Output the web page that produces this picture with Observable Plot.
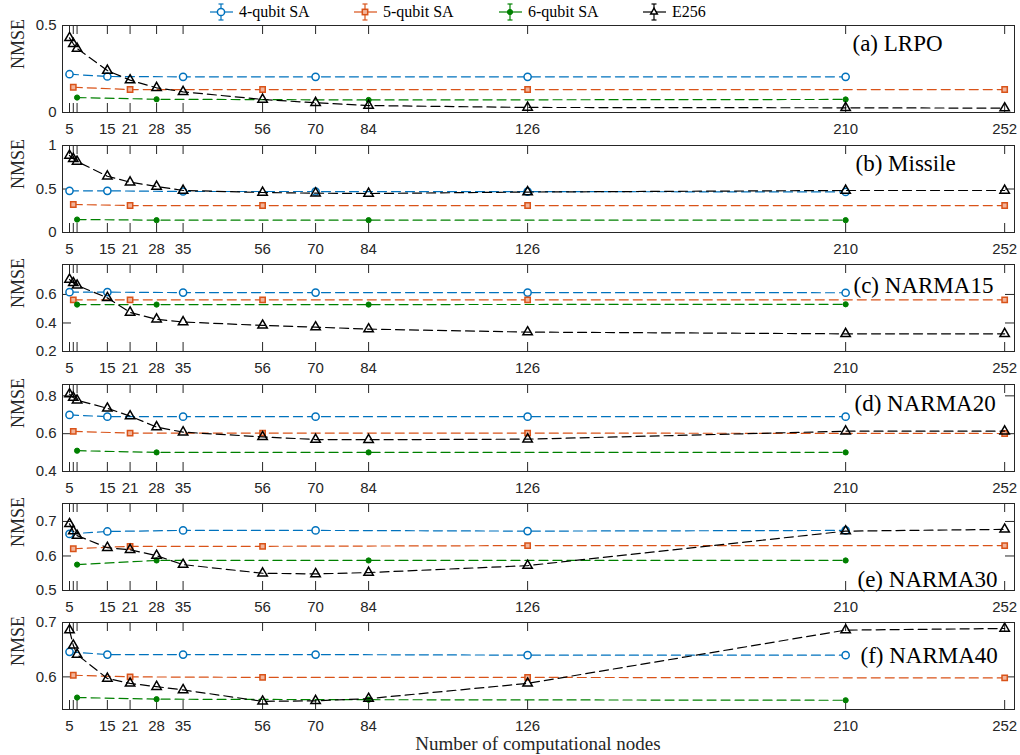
<!DOCTYPE html>
<html>
<head>
<meta charset="utf-8">
<script src="https://cdn.jsdelivr.net/npm/d3@7"></script>
<script src="https://cdn.jsdelivr.net/npm/@observablehq/plot@0.6"></script>
<style>
  html, body { margin: 0; padding: 0; background: white; }
  #wrap { position: relative; width: 1020px; height: 755px; overflow: hidden; }
  #wrap > svg { position: absolute; left: 0; }
  .leg { position: absolute; top: 1px; height: 22px; display: flex; align-items: center; font-family: 'Liberation Serif', 'Times New Roman', Times, serif; font-size: 16px; color: #000; white-space: nowrap; }
  #wrap .leg svg { position: static; margin-right: 6px; flex: none; }
  #xlabel { position: absolute; left: 0; width: 1076px; text-align: center; top: 733px; font-family: 'Liberation Serif', 'Times New Roman', Times, serif; font-size: 19px; color: #262626; }
  .serif { font-family: 'Liberation Serif', 'Times New Roman', Times, serif !important; }
</style>
</head>
<body>
<div id="wrap"></div>
<script>
// ---- data ----
const seriesNames = ["4-qubit SA", "5-qubit SA", "6-qubit SA", "E256"];
const seriesColors = ["#0072BD", "#D95319", "#008000", "#000000"];
const seriesSymbols = ["circle", "square", "dot", "triangle"];

const xs4 = [5, 15, 35, 70, 126, 210];
const xs5 = [6, 21, 56, 126, 252];
const xs6 = [7, 28, 84, 210];
const xsE = [5, 6, 7, 15, 21, 28, 35, 56, 70, 84, 126, 210, 252];

const xTicks = [5, 6, 7, 15, 21, 28, 35, 56, 70, 84, 126, 210, 252];
const xTicksUnlabeled = [6, 7];

const panelLabels = ["(a) LRPO", "(b) Missile", "(c) NARMA15", "(d) NARMA20", "(e) NARMA30", "(f) NARMA40"];
const yDomains = [[0, 0.5], [0, 1], [0.2, 0.81], [0.4, 0.86], [0.5, 0.752], [0.54, 0.70]];
const yTicks = [[0, 0.5], [0, 0.5, 1], [0.2, 0.4, 0.6], [0.4, 0.6, 0.8], [0.5, 0.6, 0.7], [0.6, 0.7]];

const lrpo4 = [0.220, 0.207, 0.205, 0.205, 0.205, 0.205];
const lrpo5 = [0.145, 0.132, 0.132, 0.132, 0.132];
const lrpo6 = [0.086, 0.076, 0.072, 0.075];
const lrpoE = [0.429, 0.395, 0.368, 0.241, 0.186, 0.142, 0.119, 0.075, 0.056, 0.040, 0.029, 0.027, 0.025];

const missile4 = [0.479, 0.479, 0.471, 0.471, 0.470, 0.466];
const missile5 = [0.322, 0.310, 0.310, 0.310, 0.310];
const missile6 = [0.149, 0.142, 0.142, 0.142];
const missileE = [0.885, 0.847, 0.816, 0.647, 0.578, 0.529, 0.483, 0.460, 0.452, 0.448, 0.465, 0.483, 0.483];

const narma15_4 = [0.616, 0.616, 0.613, 0.613, 0.613, 0.612];
const narma15_5 = [0.562, 0.562, 0.562, 0.562, 0.562];
const narma15_6 = [0.529, 0.529, 0.529, 0.531];
const narma15_E = [0.705, 0.681, 0.664, 0.576, 0.474, 0.426, 0.407, 0.383, 0.371, 0.357, 0.336, 0.324, 0.324];

const narma20_4 = [0.699, 0.690, 0.690, 0.690, 0.690, 0.690];
const narma20_5 = [0.612, 0.603, 0.603, 0.603, 0.601];
const narma20_6 = [0.510, 0.501, 0.501, 0.501];
const narma20_E = [0.809, 0.791, 0.777, 0.734, 0.693, 0.635, 0.608, 0.583, 0.569, 0.568, 0.571, 0.613, 0.613];

const narma30_4 = [0.664, 0.671, 0.674, 0.674, 0.672, 0.674];
const narma30_5 = [0.621, 0.628, 0.628, 0.630, 0.630];
const narma30_6 = [0.575, 0.587, 0.587, 0.587];
const narma30_E = [0.693, 0.672, 0.659, 0.624, 0.618, 0.601, 0.575, 0.550, 0.548, 0.552, 0.572, 0.672, 0.677];

const narma40_4 = [0.646, 0.641, 0.641, 0.641, 0.640, 0.640];
const narma40_5 = [0.603, 0.600, 0.599, 0.599, 0.598];
const narma40_6 = [0.562, 0.559, 0.558, 0.557];
const narma40_E = [0.686, 0.658, 0.641, 0.597, 0.588, 0.582, 0.576, 0.555, 0.556, 0.560, 0.588, 0.686, 0.689];

const panelValues = [
  [lrpo4, lrpo5, lrpo6, lrpoE],
  [missile4, missile5, missile6, missileE],
  [narma15_4, narma15_5, narma15_6, narma15_E],
  [narma20_4, narma20_5, narma20_6, narma20_E],
  [narma30_4, narma30_5, narma30_6, narma30_E],
  [narma40_4, narma40_5, narma40_6, narma40_E]
];
const seriesX = [xs4, xs5, xs6, xsE];

// ---- layout (styles) ----
const frameTops = [25, 145, 264, 384, 503, 622];
const plotH = 87;
const mTop = 10, mBottom = 28, mLeft = 62, mRight = 6, W = 1020;
const plotW = W - mLeft - mRight;
const labelPos = [
  {anchor: "top-left", dx: 790, dy: 18},
  {anchor: "top-left", dx: 793, dy: 18},
  {anchor: "top-left", dx: 791, dy: 21},
  {anchor: "top-left", dx: 792, dy: 19},
  {anchor: "bottom-left", dx: 795, dy: -11},
  {anchor: "top-left", dx: 798, dy: 33}
];
const axisColor = "#262626";
const dash = "9,5";
const serifFont = "'Liberation Serif', 'Times New Roman', Times, serif";

function markFor(sym, color, data) {
  if (sym === "circle") return Plot.dot(data, {x: "x", y: "y", symbol: "circle", r: 3.6, stroke: color, strokeWidth: 1.5, fill: "white"});
  if (sym === "square") return Plot.dot(data, {x: "x", y: "y", symbol: "square", r: 3.0, stroke: color, strokeWidth: 1.5, fill: "#f2b49a"});
  if (sym === "dot") return Plot.dot(data, {x: "x", y: "y", symbol: "circle", r: 2.6, stroke: color, strokeWidth: 1, fill: color});
  return Plot.dot(data, {x: "x", y: "y", symbol: "triangle", r: 3.5, stroke: color, strokeWidth: 1.5, fill: "none"});
}

const wrap = document.getElementById("wrap");

panelValues.forEach((vals, p) => {
  const marks = [];
  // inward ticks on all four sides
  marks.push(Plot.tickX(xTicks, {x: d => d, insetTop: plotH - 9, stroke: axisColor}));
  marks.push(Plot.tickX(xTicks, {x: d => d, insetBottom: plotH - 9, stroke: axisColor}));
  marks.push(Plot.tickY(yTicks[p], {y: d => d, insetRight: plotW - 9, stroke: axisColor}));
  marks.push(Plot.tickY(yTicks[p], {y: d => d, insetLeft: plotW - 9, stroke: axisColor}));
  vals.forEach((ys, s) => {
    const data = seriesX[s].map((x, i) => ({x, y: ys[i]}));
    marks.push(Plot.line(data, {x: "x", y: "y", stroke: seriesColors[s], strokeWidth: 1.2, strokeDasharray: dash}));
    marks.push(markFor(seriesSymbols[s], seriesColors[s], data));
  });
  marks.push(Plot.frame({stroke: axisColor, strokeWidth: 1}));
  marks.push(Plot.text(["NMSE"], {text: d => d, frameAnchor: "left", dx: -44, rotate: -90, fontFamily: serifFont, fontSize: 18, fill: axisColor, className: "serif"}));
  const lp = labelPos[p];
  marks.push(Plot.text([panelLabels[p]], {text: d => d, frameAnchor: lp.anchor, dx: lp.dx, dy: lp.dy, textAnchor: "start", lineAnchor: "middle", fontFamily: serifFont, fontSize: 23, fill: "#000", className: "serif"}));

  const chart = Plot.plot({
    width: W,
    height: mTop + plotH + mBottom,
    marginLeft: mLeft, marginRight: mRight, marginTop: mTop, marginBottom: mBottom,
    style: {background: "transparent", overflow: "visible", fontFamily: "'Liberation Sans', Arial, sans-serif", fontSize: "15px", color: axisColor},
    x: {domain: [3.15, 254.6], ticks: xTicks, tickSize: 0, tickPadding: 11, label: null,
        tickFormat: d => xTicksUnlabeled.includes(d) ? "" : String(d)},
    y: {domain: yDomains[p], ticks: yTicks[p], tickSize: 0, tickPadding: 6, label: null,
        tickFormat: d => String(d)},
    marks
  });
  chart.style.top = (frameTops[p] - mTop) + "px";
  // ensure serif font on the label texts
  chart.querySelectorAll("g.serif text, text.serif").forEach(t => t.style.fontFamily = serifFont);
  wrap.appendChild(chart);
});

// ---- legend ----
const legendX = [210, 354, 499, 643];
seriesNames.forEach((name, i) => {
  const div = document.createElement("div");
  div.className = "leg";
  div.style.left = legendX[i] + "px";
  const c = seriesColors[i];
  let marker;
  if (seriesSymbols[i] === "circle") marker = `<circle cx="11" cy="11" r="3.6" fill="white" stroke="${c}" stroke-width="1.5"/>`;
  else if (seriesSymbols[i] === "square") marker = `<rect x="8.3" y="8.3" width="5.4" height="5.4" fill="#f2b49a" stroke="${c}" stroke-width="1.5"/>`;
  else if (seriesSymbols[i] === "dot") marker = `<circle cx="11" cy="11" r="2.6" fill="${c}" stroke="${c}"/>`;
  else marker = `<path d="M11,7.2L14.3,13L7.7,13Z" fill="white" stroke="${c}" stroke-width="1.5"/>`;
  div.innerHTML = `<svg width="23" height="22" viewBox="0 0 23 22">
    <line x1="0" y1="11" x2="23" y2="11" stroke="${c}" stroke-width="1.2"/>
    <line x1="11" y1="3" x2="11" y2="19" stroke="${c}" stroke-width="1.2"/>
    <line x1="8.5" y1="3" x2="13.5" y2="3" stroke="${c}" stroke-width="1.2"/>
    <line x1="8.5" y1="19" x2="13.5" y2="19" stroke="${c}" stroke-width="1.2"/>
    ${marker}</svg><span>${name}</span>`;
  wrap.appendChild(div);
});

const xl = document.createElement("div");
xl.id = "xlabel";
xl.textContent = "Number of computational nodes";
wrap.appendChild(xl);
</script>
</body>
</html>
